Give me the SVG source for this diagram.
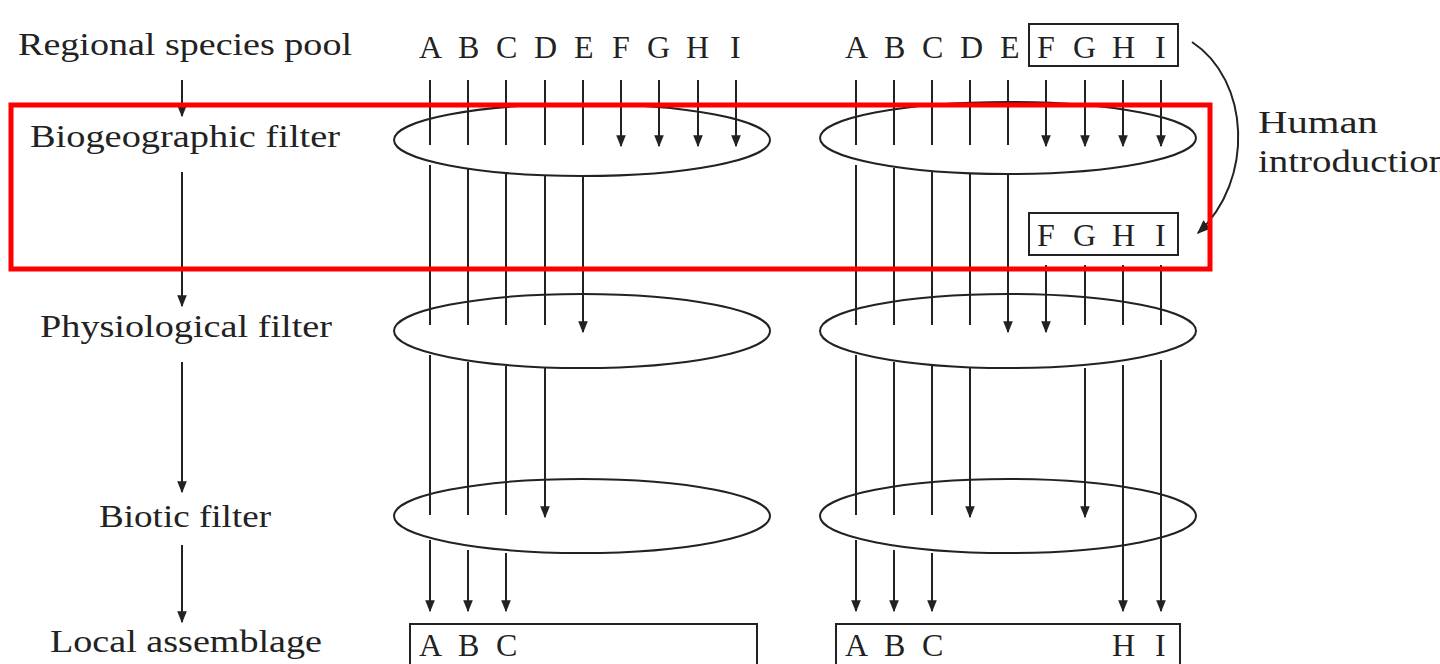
<svg xmlns="http://www.w3.org/2000/svg" width="1440" height="664" viewBox="0 0 1440 664">
<style>
text{font-family:"Liberation Serif","DejaVu Serif",serif;font-size:32px;fill:#222}
.lb{text-anchor:middle}
line,path,ellipse,rect{stroke:#222;stroke-width:2;fill:none}
.a{marker-end:url(#ar)}
</style>
<defs><marker id="ar" viewBox="0 0 10 10" refX="9" refY="5" markerWidth="14" markerHeight="12" orient="auto" markerUnits="userSpaceOnUse"><path d="M0,1L10,5L0,9z" style="fill:#222;stroke:none"/></marker>
<marker id="ar2" viewBox="0 0 10 10" refX="9" refY="5" markerWidth="14" markerHeight="14" orient="auto" markerUnits="userSpaceOnUse"><path d="M0,1L10,5L0,9z" style="fill:#222;stroke:none"/></marker></defs>
<g id="labels">
<text x="18" y="55" textLength="334" lengthAdjust="spacingAndGlyphs">Regional species pool</text>
<text x="30" y="147" textLength="310" lengthAdjust="spacingAndGlyphs">Biogeographic filter</text>
<text x="40" y="337" textLength="292" lengthAdjust="spacingAndGlyphs">Physiological filter</text>
<text x="99" y="527" textLength="172" lengthAdjust="spacingAndGlyphs">Biotic filter</text>
<text x="50" y="652" textLength="272" lengthAdjust="spacingAndGlyphs">Local assemblage</text>
<text x="1258" y="133" textLength="120" lengthAdjust="spacingAndGlyphs">Human</text>
<text x="1258" y="172" textLength="190" lengthAdjust="spacingAndGlyphs">introduction</text>
</g>
<g id="pool-left"><text x="419" y="58">A</text><text x="458" y="58">B</text><text x="496" y="58">C</text><text x="534" y="58">D</text><text x="574" y="58">E</text><text x="612" y="58">F</text><text x="647" y="58">G</text><text x="686" y="58">H</text><text x="730" y="58">I</text></g>
<g id="pool-right"><text x="845" y="58">A</text><text x="884" y="58">B</text><text x="922" y="58">C</text><text x="960" y="58">D</text><text x="1000" y="58">E</text><text x="1037" y="58">F</text><text x="1073" y="58">G</text><text x="1112" y="58">H</text><text x="1155" y="58">I</text><rect x="1029" y="24" width="149" height="42"/></g>
<g id="intro-box"><rect x="1029" y="213" width="149" height="42"/><text x="1037" y="246">F</text><text x="1073" y="246">G</text><text x="1112" y="246">H</text><text x="1155" y="246">I</text></g>
<g id="filters">
<ellipse cx="582" cy="140" rx="188" ry="36"/><ellipse cx="1008" cy="138" rx="188" ry="36"/>
<ellipse cx="582" cy="331" rx="188" ry="37"/><ellipse cx="1008" cy="331" rx="188" ry="37"/>
<ellipse cx="582" cy="516" rx="188" ry="37"/><ellipse cx="1008" cy="516" rx="188" ry="37"/>
</g>
<g id="local"><rect x="410" y="624" width="347" height="50"/><text x="419" y="656">A</text><text x="458" y="656">B</text><text x="496" y="656">C</text>
<rect x="836" y="624" width="344" height="50"/><text x="845" y="656">A</text><text x="884" y="656">B</text><text x="922" y="656">C</text><text x="1112" y="656">H</text><text x="1155" y="656">I</text></g>
<g id="connectors">
<line x1="182" y1="80" x2="182" y2="116" class="a"/><line x1="182" y1="172" x2="182" y2="306" class="a"/><line x1="182" y1="362" x2="182" y2="492" class="a"/><line x1="182" y1="545" x2="182" y2="622" class="a"/>
<path d="M430,80V145M468,80V145M506,80V145M545,80V145M583,80V145M430,165V325M468,168V325M506,172V325M545,175V325M430,355V515M468,362V515M506,366V515"/>
<line x1="621" y1="80" x2="621" y2="146" class="a"/><line x1="659" y1="80" x2="659" y2="146" class="a"/><line x1="698" y1="80" x2="698" y2="146" class="a"/><line x1="736" y1="80" x2="736" y2="146" class="a"/>
<line x1="583" y1="176" x2="583" y2="332" class="a"/><line x1="545" y1="368" x2="545" y2="517" class="a"/>
<line x1="430" y1="540" x2="430" y2="611" class="a"/><line x1="468" y1="550" x2="468" y2="611" class="a"/><line x1="506" y1="553" x2="506" y2="611" class="a"/>
<path d="M856,80V145M894,80V145M932,80V145M970,80V145M1008,80V145M856,165V325M894,168V325M932,172V325M970,174V325M856,355V515M894,362V515M932,366V515M1085,265V325M1123,265V325M1161,265V325"/>
<line x1="1046" y1="80" x2="1046" y2="146" class="a"/><line x1="1085" y1="80" x2="1085" y2="146" class="a"/><line x1="1123" y1="80" x2="1123" y2="146" class="a"/><line x1="1161" y1="80" x2="1161" y2="146" class="a"/>
<line x1="1008" y1="175" x2="1008" y2="332" class="a"/><line x1="1046" y1="265" x2="1046" y2="332" class="a"/>
<line x1="970" y1="368" x2="970" y2="517" class="a"/><line x1="1085" y1="368" x2="1085" y2="517" class="a"/>
<line x1="1123" y1="365" x2="1123" y2="611" class="a"/><line x1="1161" y1="360" x2="1161" y2="611" class="a"/>
<line x1="856" y1="540" x2="856" y2="611" class="a"/><line x1="894" y1="550" x2="894" y2="611" class="a"/><line x1="932" y1="553" x2="932" y2="611" class="a"/>
<path d="M1192,42C1250,80 1255,180 1198,233" style="marker-end:url(#ar2)"/>
</g>
<rect id="highlight" x="11" y="105" width="1199" height="164" style="stroke:#f00;stroke-width:5"/>
</svg>
